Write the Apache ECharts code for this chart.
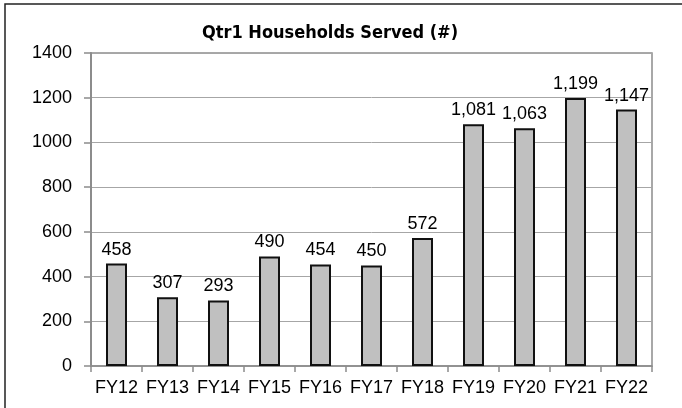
<!DOCTYPE html>
<html>
<head>
<meta charset="utf-8">
<title>Qtr1 Households Served</title>
<script src="https://cdn.jsdelivr.net/npm/echarts@6/dist/echarts.min.js"></script>
<style>
	html, body {
		margin: 0;
		padding: 0;
		background: #fff;
	}
	#bar {
		width: 682px;
		height: 408px;
	}
</style>
</head>
<body>

<!-- 柱状图容器 -->
<div id="bar"></div>

<script type="text/javascript">
	// 数据
	var categories = ['FY12', 'FY13', 'FY14', 'FY15', 'FY16', 'FY17', 'FY18', 'FY19', 'FY20', 'FY21', 'FY22'];
	var households = [458, 307, 293, 490, 454, 450, 572, 1081, 1063, 1199, 1147];
	var yTicks = [0, 200, 400, 600, 800, 1000, 1200, 1400];

	var labelFont = 'Liberation Sans, Arial, sans-serif';

	var option = {
		animation: false,
		title: {
			text: 'Qtr1 Households Served (#)',
			left: 325,
			top: 19,
			textAlign: 'center',
			textStyle: {
				fontFamily: '"DejaVu Sans Condensed", "Liberation Sans Narrow", sans-serif',
				fontWeight: 'bold',
				fontSize: 18,
				color: '#000'
			}
		},
		// 外框
		graphic: [{
			type: 'rect',
			shape: { x: 5, y: 4, width: 720, height: 440 },
			style: { fill: 'none', stroke: '#222', lineWidth: 1.5 },
			silent: true
		}],
		grid: {
			left: 91,
			right: 30,
			top: 53,
			bottom: 42,
			show: true,
			borderColor: '#8c8c8c',
			borderWidth: 1.5
		},
		xAxis: {
			type: 'category',
			data: categories,
			axisLine: { lineStyle: { color: '#8c8c8c', width: 1.5 } },
			axisTick: { show: true, interval: 0, length: 6, lineStyle: { color: '#8c8c8c', width: 1.5 } },
			axisLabel: {
				interval: 0,
				margin: 13,
				fontSize: 18,
				fontFamily: labelFont,
				color: '#000'
			}
		},
		yAxis: {
			type: 'value',
			min: yTicks[0],
			max: yTicks[yTicks.length - 1],
			interval: yTicks[1] - yTicks[0],
			axisLine: { show: true, lineStyle: { color: '#8c8c8c', width: 2 } },
			axisTick: { show: true, length: 7, lineStyle: { color: '#8c8c8c', width: 1.5 } },
			splitLine: { lineStyle: { color: '#a6a6a6', width: 1 } },
			axisLabel: {
				margin: 19,
				fontSize: 18,
				fontFamily: labelFont,
				color: '#000',
				formatter: function (v) {
					return String(v);
				}
			}
		},
		series: [{
			type: 'bar',
			data: households,
			barWidth: 21,
			itemStyle: {
				color: '#c0c0c0',
				borderColor: '#111',
				borderWidth: 2
			},
			label: {
				show: true,
				position: 'top',
				distance: 5,
				fontSize: 18,
				fontFamily: labelFont,
				color: '#000',
				formatter: function (p) {
					return p.value.toLocaleString('en-US');
				}
			}
		}]
	};

	renderChart('bar', option);

	// 渲染图表
	function renderChart(containerId, option) {
		var dom = document.getElementById(containerId);
		var chart = echarts.init(dom);
		chart.setOption(option);
	}
</script>
</body>
</html>
